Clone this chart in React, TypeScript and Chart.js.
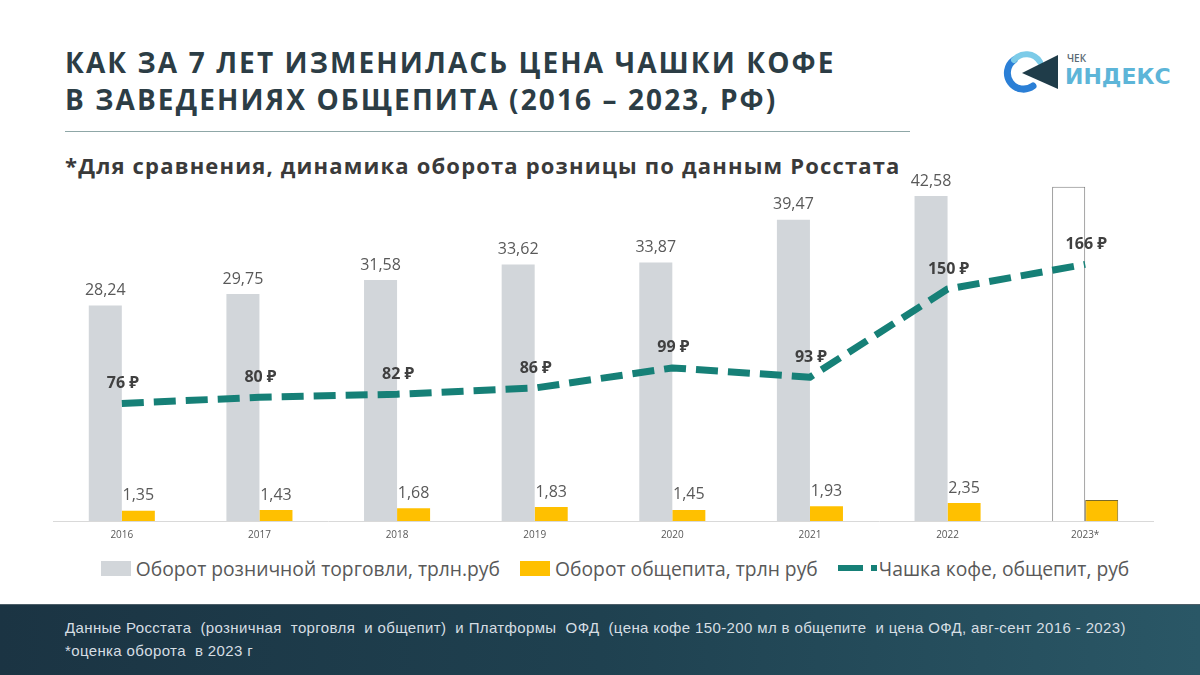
import React, { useEffect, useRef } from 'react';
import { Chart, registerables } from 'chart.js';

Chart.register(...registerables);

const years = ['2016', '2017', '2018', '2019', '2020', '2021', '2022', '2023*'];
const retail = [28.24, 29.75, 31.58, 33.62, 33.87, 39.47, 42.58, 43.8];
const catering = [1.35, 1.43, 1.68, 1.83, 1.45, 1.93, 2.35, 2.75];
const coffee = [76, 80, 82, 86, 99, 93, 150, 166];
const barLabelShown = [true, true, true, true, true, true, true, false];

const legendItems = [
  'Оборот розничной торговли, трлн.руб',
  'Оборот общепита, трлн руб',
  'Чашка кофе, общепит, руб',
];

const GRAY = '#d2d6da';
const ORANGE = '#ffc000';
const TEAL = '#168077';
const FONT = "'Open Sans', 'Noto Sans', 'DejaVu Sans', sans-serif";

const fmt = (v: number) => v.toFixed(2).replace('.', ',');

const valueLabels = {
  id: 'valueLabels',
  afterDatasetsDraw(chart: any) {
    const ctx = chart.ctx;
    ctx.save();
    ctx.textAlign = 'center';
    ctx.textBaseline = 'middle';
    chart.data.datasets.forEach((ds: any, di: number) => {
      const meta = chart.getDatasetMeta(di);
      meta.data.forEach((el: any, i: number) => {
        const v = ds.data[i] as number;
        if (ds.type === 'line') {
          ctx.font = `bold 16px ${FONT}`;
          ctx.fillStyle = '#404040';
          ctx.fillText(`${v} ₽`, el.x + 1, el.y - 20);
        } else {
          if (!barLabelShown[i]) return;
          ctx.font = `16px ${FONT}`;
          ctx.fillStyle = '#595959';
          ctx.fillText(fmt(v), el.x, el.y - 15);
        }
      });
    });
    ctx.restore();
  },
};

function ChartBox() {
  const ref = useRef<HTMLCanvasElement>(null);
  useEffect(() => {
    if (!ref.current) return;
    const chart = new Chart(ref.current, {
      type: 'bar',
      data: {
        labels: years,
        datasets: [
          {
            type: 'line',
            label: legendItems[2],
            data: coffee,
            yAxisID: 'y2',
            borderColor: TEAL,
            backgroundColor: TEAL,
            borderWidth: 7,
            borderDash: [22, 10],
            borderJoinStyle: 'round',
            pointRadius: 0,
            tension: 0,
            order: 0,
          } as any,
          {
            type: 'bar',
            label: legendItems[0],
            data: retail,
            yAxisID: 'y',
            backgroundColor: retail.map((_, i) => (i === 7 ? '#ffffff' : GRAY)),
            borderColor: retail.map((_, i) => (i === 7 ? '#7f7f7f' : GRAY)),
            borderWidth: retail.map((_, i) => (i === 7 ? 1 : 0)),
            categoryPercentage: 0.48,
            barPercentage: 1,
            order: 1,
          },
          {
            type: 'bar',
            label: legendItems[1],
            data: catering,
            yAxisID: 'y',
            backgroundColor: ORANGE,
            borderColor: catering.map((_, i) => (i === 7 ? '#7a6a2a' : ORANGE)),
            borderWidth: catering.map((_, i) => (i === 7 ? 1 : 0)),
            categoryPercentage: 0.48,
            barPercentage: 1,
            order: 2,
          },
        ],
      },
      options: {
        animation: false,
        responsive: false,
        layout: { padding: 0 },
        plugins: {
          legend: { display: false },
          tooltip: { enabled: false },
        },
        scales: {
          x: {
            type: 'category',
            offset: true,
            grid: { display: false, drawTicks: false },
            border: { display: true, color: '#d9d9d9', width: 1 },
            ticks: { color: '#595959', font: { size: 10, family: FONT }, padding: 8, maxRotation: 0 },
            afterFit: (scale: any) => {
              scale.height = 24;
            },
          },
          y: { display: false, min: 0, max: 46 },
          y2: { display: false, min: 0, max: 227, position: 'right' },
        },
      } as any,
      plugins: [valueLabels],
    });
    return () => chart.destroy();
  }, []);
  return <canvas ref={ref} width={1101} height={375} style={{ display: 'block' }} />;
}

function Logo() {
  return (
    <svg width={175} height={50} viewBox="0 0 175 50" style={{ position: 'absolute', left: 1000, top: 46 }}>
      <path d="M 33 40 A 16 16 0 1 1 14 14" fill="none" stroke="#2b7fd6" strokeWidth={7} strokeLinecap="round" />
      <path d="M 14 14 A 16 16 0 0 1 40 16" fill="none" stroke="#7ccbe8" strokeWidth={6} strokeLinecap="round" />
      <polygon points="22,27 58,9 58,43" fill="#1f3c49" />
      <text x={67} y={16} fontSize={10} fontFamily={FONT} fill="#5a6a74" fontWeight={600}>ЧЕК</text>
      <text x={65} y={38} fontSize={22} fontFamily="'DejaVu Sans', sans-serif" fill="#5db5d8" fontWeight={700}>ИНДЕКС</text>
    </svg>
  );
}

export default function App() {
  const legendText: React.CSSProperties = { fontFamily: FONT, fontSize: 19.3, color: '#595959', whiteSpace: 'nowrap' };
  return (
    <div style={{ position: 'absolute', left: 0, top: 0, width: 1200, height: 675, background: '#ffffff', overflow: 'hidden' }}>
      <div style={{ position: 'absolute', left: 65, top: 44, fontFamily: FONT, fontWeight: 700, fontSize: 28, lineHeight: '37px', color: '#2c3d45', letterSpacing: 2.1, whiteSpace: 'nowrap' }}>
        <div>КАК ЗА 7 ЛЕТ ИЗМЕНИЛАСЬ ЦЕНА ЧАШКИ КОФЕ</div>
        <div>В ЗАВЕДЕНИЯХ ОБЩЕПИТА (2016 – 2023, РФ)</div>
      </div>
      <div style={{ position: 'absolute', left: 65, top: 131, width: 845, height: 1, background: '#8fa7a7' }} />
      <div style={{ position: 'absolute', left: 65, top: 150, fontFamily: FONT, fontWeight: 700, fontSize: 22, lineHeight: '30px', color: '#3a3a3a', letterSpacing: 1.17, whiteSpace: 'nowrap' }}>
        *Для сравнения, динамика оборота розницы по данным Росстата
      </div>
      <Logo />
      <div style={{ position: 'absolute', left: 53, top: 170 }}>
        <ChartBox />
      </div>
      <div style={{ position: 'absolute', left: 30, top: 554, width: 1170, height: 28, display: 'flex', justifyContent: 'center', alignItems: 'center' }}>
        <div style={{ display: 'flex', alignItems: 'center' }}>
          <div style={{ width: 30, height: 15, background: GRAY, marginRight: 5 }} />
          <span style={legendText}>{legendItems[0]}</span>
        </div>
        <div style={{ display: 'flex', alignItems: 'center', marginLeft: 20 }}>
          <div style={{ width: 30, height: 15, background: ORANGE, marginRight: 5 }} />
          <span style={legendText}>{legendItems[1]}</span>
        </div>
        <div style={{ display: 'flex', alignItems: 'center', marginLeft: 20 }}>
          <div style={{ width: 25, height: 6, background: TEAL }} />
          <div style={{ width: 6, height: 6, background: TEAL, marginLeft: 8, marginRight: 2 }} />
          <span style={legendText}>{legendItems[2]}</span>
        </div>
      </div>
      <div style={{ position: 'absolute', left: 0, top: 604, width: 1200, height: 71, background: 'linear-gradient(90deg, #1b3443 0%, #1f4150 50%, #2a5766 100%)', borderTop: '1px solid #4c5e68' }}>
        <div style={{ position: 'absolute', left: 65, top: 11, fontFamily: "'Liberation Sans', Arial, sans-serif", fontSize: 15, lineHeight: '23px', letterSpacing: 0.37, color: '#d6dee3', whiteSpace: 'pre' }}>
          <div>Данные Росстата  (розничная  торговля  и общепит)  и Платформы  ОФД  (цена кофе 150-200 мл в общепите  и цена ОФД, авг-сент 2016 - 2023)</div>
          <div>*оценка оборота  в 2023 г</div>
        </div>
      </div>
    </div>
  );
}
